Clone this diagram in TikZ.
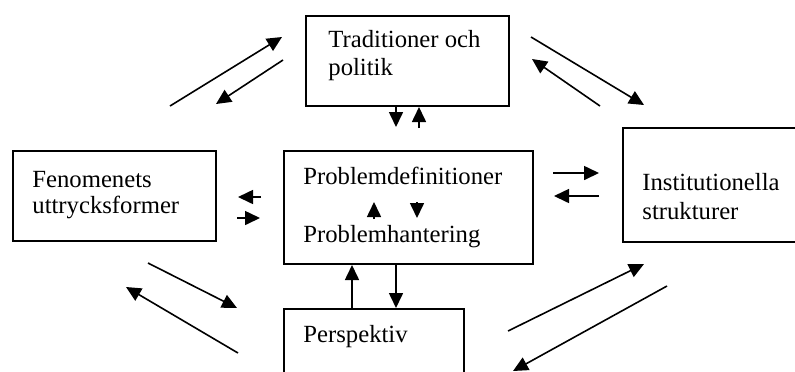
\documentclass[tikz,border=0pt]{standalone}
\usepackage{fontspec}
\setmainfont{Liberation Serif}
\usetikzlibrary{arrows.meta}
\begin{document}
\begin{tikzpicture}[x=0.5pt,y=-0.5pt,
  box/.style={draw=black,line width=1pt,inner sep=0pt,anchor=north west},
  txt/.style={anchor=base west,inner sep=0pt,font=\fontsize{12.35}{15}\selectfont},
  arr/.style={line width=0.8pt,-{Triangle[length=7.5pt,width=7pt]}}]
\useasboundingbox (0,0) rectangle (795,371);
\clip (0,0) rectangle (795,371);
% boxes
\node[box,minimum width=101.5pt,minimum height=45pt] (trad) at (305,15) {};
\node[box,minimum width=101.5pt,minimum height=45pt] (fen) at (12,150) {};
\node[box,minimum width=124.5pt,minimum height=56.5pt] (prob) at (283,150) {};
\node[box,minimum width=94pt,minimum height=57pt] (inst) at (622,127) {};
\node[box,minimum width=90pt,minimum height=41pt] (persp) at (283,308) {};
% texts
\node[txt] (t1) at (328,47) {Traditioner och};
\node[txt] (t2) at (328,75) {politik};
\node[txt] (f1) at (32,187) {Fenomenets};
\node[txt] (f2) at (32,213) {uttrycksformer};
\node[txt] (p1) at (303,184) {Problemdefinitioner};
\node[txt] (p2) at (303,242) {Problemhantering};
\node[txt] (i1) at (642,190) {Institutionella};
\node[txt] (i2) at (642,219) {strukturer};
\node[txt] (q1) at (303,342) {Perspektiv};
% free coordinates
\coordinate (a1s) at (170,106); \coordinate (a1e) at (282,37);
\coordinate (a2s) at (283,60);  \coordinate (a2e) at (216,104);
\coordinate (a3s) at (531,37);  \coordinate (a3e) at (644,105);
\coordinate (a4s) at (600,106); \coordinate (a4e) at (532,59);
\coordinate (a5e) at (396,127);
\coordinate (a6s) at (419,128);
\coordinate (a7s) at (553,173); \coordinate (a7e) at (599,173);
\coordinate (a8s) at (599,196); \coordinate (a8e) at (554,196);
\coordinate (a9s) at (261,197); \coordinate (a9e) at (238,197);
\coordinate (a10s) at (237,218); \coordinate (a10e) at (260,218);
\coordinate (a11s) at (374,219); \coordinate (a11e) at (374,202);
\coordinate (a12s) at (417,202); \coordinate (a12e) at (417,218);
\coordinate (a15s) at (148,263); \coordinate (a15e) at (237,308);
\coordinate (a16s) at (238,353); \coordinate (a16e) at (126,287);
\coordinate (a17s) at (508,331); \coordinate (a17e) at (644,264);
\coordinate (a18s) at (667,286); \coordinate (a18e) at (513,371);
% arrows
\draw[arr] (a1s) -- (a1e);
\draw[arr] (a2s) -- (a2e);
\draw[arr] (a3s) -- (a3e);
\draw[arr] (a4s) -- (a4e);
\draw[arr] (trad.south -| a5e) -- (a5e);
\draw[arr] (a6s) -- (a6s |- trad.south);
\draw[arr] (a7s) -- (a7e);
\draw[arr] (a8s) -- (a8e);
\draw[arr] (a9s) -- (a9e);
\draw[arr] (a10s) -- (a10e);
\draw[arr] (a11s) -- (a11e);
\draw[arr] (a12s) -- (a12e);
\draw[arr] (persp.north -| 352,0) -- (prob.south -| 352,0);
\draw[arr] (prob.south -| 396,0) -- (persp.north -| 396,0);
\draw[arr] (a15s) -- (a15e);
\draw[arr] (a16s) -- (a16e);
\draw[arr] (a17s) -- (a17e);
\draw[arr] (a18s) -- (a18e);
\end{tikzpicture}
\end{document}
